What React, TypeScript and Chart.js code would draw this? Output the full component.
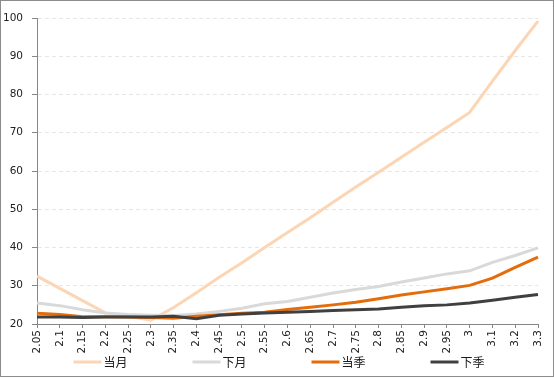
import React, { useEffect, useRef } from "react";
import { Chart, registerables } from "chart.js";

Chart.register(...registerables);

const categories = ["2.05","2.1","2.15","2.2","2.25","2.3","2.35","2.4","2.45","2.5","2.55","2.6","2.65","2.7","2.75","2.8","2.85","2.9","2.95","3","3.1","3.2","3.3"];
const seriesNames = ["当月", "下月", "当季", "下季"];
const dangYue = [32.5, 29.3, 26.1, 22.9, 22.0, 21.0, 24.3, 28.2, 32.2, 36.0, 40.0, 43.9, 47.8, 51.8, 55.8, 59.7, 63.6, 67.5, 71.4, 75.3, 83.5, 91.5, 99.2];
const xiaYue = [25.5, 24.8, 23.7, 22.9, 22.5, 22.3, 22.2, 22.6, 23.3, 24.1, 25.3, 25.9, 27.0, 28.1, 29.0, 29.8, 31.0, 32.0, 33.1, 33.9, 36.1, 37.9, 39.9];
const dangJi = [22.8, 22.5, 21.9, 21.9, 21.8, 21.7, 21.5, 22.0, 22.4, 22.8, 23.1, 23.8, 24.4, 25.0, 25.7, 26.6, 27.6, 28.4, 29.2, 30.1, 32.0, 34.8, 37.5];
const xiaJi = [21.8, 21.8, 21.7, 21.8, 21.8, 21.8, 22.0, 21.4, 22.3, 22.6, 22.9, 23.1, 23.3, 23.5, 23.7, 23.9, 24.4, 24.8, 25.0, 25.5, 26.2, 27.0, 27.7];
const yTicks = [20, 30, 40, 50, 60, 70, 80, 90, 100];

const colors = ["#FCD5B4", "#D9D9D9", "#E46C0A", "#404040"];
const TICK_FONT = { family: "'DejaVu Sans'", size: 10.5 };

const framePlugin = {
  id: "frame",
  beforeDraw(chart: any) {
    const ctx = chart.ctx;
    ctx.save();
    ctx.fillStyle = "#ffffff";
    ctx.fillRect(0, 0, chart.width, chart.height);
    ctx.restore();
  },
  afterDraw(chart: any) {
    const ctx = chart.ctx;
    ctx.save();
    ctx.strokeStyle = "#8C8C8C";
    ctx.lineWidth = 1;
    ctx.strokeRect(0.5, 0.5, chart.width - 1, chart.height - 2);
    // custom legend
    ctx.font = "12px 'Noto Sans CJK SC'";
    ctx.textBaseline = "middle";
    ctx.textAlign = "left";
    const spacing = 119;
    const lineW = 28;
    const gap = 2;
    const textW = ctx.measureText(seriesNames[0]).width;
    const total = spacing * (seriesNames.length - 1) + lineW + gap + textW;
    const startX = (chart.width - total) / 2 + 2;
    const y = 362;
    chart.data.datasets.forEach((ds: any, i: number) => {
      const x = startX + i * spacing;
      ctx.strokeStyle = ds.borderColor;
      ctx.lineWidth = 3;
      ctx.beginPath();
      ctx.moveTo(x, y);
      ctx.lineTo(x + lineW, y);
      ctx.stroke();
      ctx.fillStyle = "#1a1a1a";
      ctx.fillText(ds.label, x + lineW + gap, y);
    });
    ctx.restore();
  },
};

export default function App() {
  const ref = useRef<HTMLCanvasElement | null>(null);
  useEffect(() => {
    if (!ref.current) return;
    const series = [dangYue, xiaYue, dangJi, xiaJi];
    const chart = new Chart(ref.current, {
      type: "line",
      data: {
        labels: categories,
        datasets: series.map((d, i) => ({
          label: seriesNames[i],
          data: d,
          borderColor: colors[i],
          backgroundColor: colors[i],
          borderWidth: 3,
          pointRadius: 0,
          tension: 0,
          order: 4 - i,
        })),
      },
      options: {
        responsive: false,
        animation: false,
        layout: { padding: { left: 0, right: 16, top: 18, bottom: 24 } },
        plugins: {
          legend: { display: false },
          tooltip: { enabled: false },
        },
        scales: {
          x: {
            type: "category",
            offset: false,
            afterFit: (s: any) => { s.height = 30; },
            grid: {
              display: true,
              drawOnChartArea: false,
              drawTicks: true,
              tickLength: 4,
              tickColor: "#868686",
            },
            border: { display: true, color: "#868686", width: 1 },
            ticks: {
              autoSkip: false,
              minRotation: 90,
              maxRotation: 90,
              padding: 2,
              color: "#222",
              font: TICK_FONT,
            },
          },
          y: {
            min: 20,
            max: 100,
            afterFit: (s: any) => { s.width = 37; },
            afterBuildTicks: (s: any) => { s.ticks = yTicks.map((v) => ({ value: v })); },
            grid: {
              color: (c: any) => (c.tick && c.tick.value === 20 ? "rgba(0,0,0,0)" : "#E6E6E6"),
              lineWidth: 1,
              drawTicks: true,
              tickLength: 5,
              tickColor: "#868686",
              tickBorderDash: [],
            },
            border: { display: true, color: "#868686", width: 1, dash: [4, 3] },
            ticks: {
              padding: 9,
              color: "#222",
              font: TICK_FONT,
            },
          },
        },
      },
      plugins: [framePlugin],
    } as any);
    return () => chart.destroy();
  }, []);
  return (
    <div style={{ position: "fixed", left: 0, top: 0, width: 554, height: 378, background: "#fff" }}>
      <canvas ref={ref} width={554} height={378} style={{ display: "block" }} />
    </div>
  );
}
